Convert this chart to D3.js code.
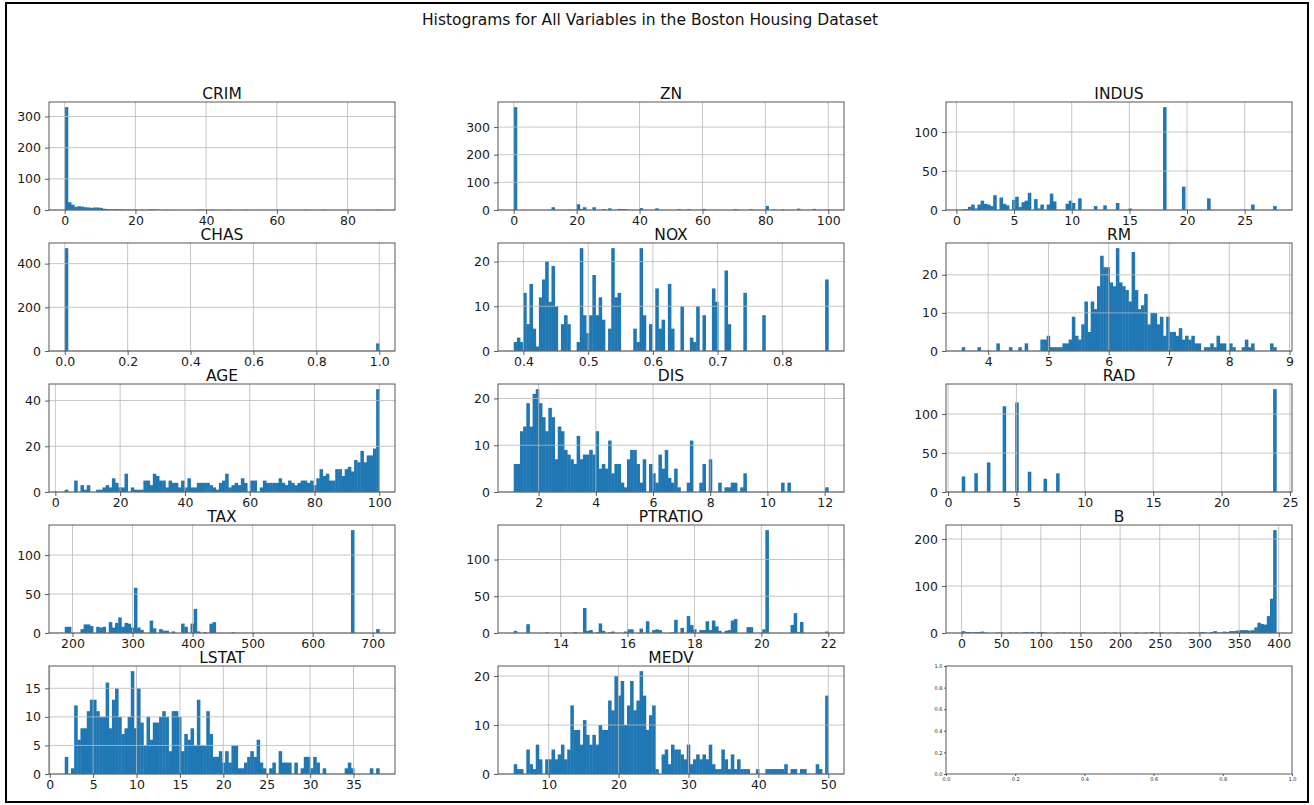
<!DOCTYPE html>
<html>
<head>
<meta charset="utf-8">
<script src="https://cdn.jsdelivr.net/npm/d3@7"></script>
<style>
  body { margin: 0; background: #fff; }
  text { font-family: "DejaVu Sans", sans-serif; }
</style>
</head>
<body>
<svg id="chart" width="1314" height="805"></svg>
<script>
// Histogram counts, 100 equal bins between each column's min and max
const crimCounts = [
  330,25,17,10,12,11,9,8,7,8,
  8,7,4,3,2,2,3,2,2,1,
  2,1,1,0,1,0,1,2,1,1,
  0,0,1,0,0,0,0,0,0,0,
  0,0,1,1,0,0,1,0,0,0,
  0,1,0,0,0,0,0,1,0,0,
  0,0,0,0,0,0,0,0,0,0,
  0,0,0,0,0,0,1,0,0,0,
  0,0,1,0,0,0,0,0,0,0,
  0,0,0,0,0,0,0,0,0,1];
const znCounts = [
  372,0,0,0,0,0,0,0,0,0,
  0,0,10,0,0,0,0,1,1,0,
  21,4,10,0,0,10,0,0,3,0,
  6,0,0,4,3,3,0,0,0,0,
  7,0,0,0,0,6,0,0,0,0,
  0,0,3,0,0,3,0,0,0,0,
  4,0,0,0,0,0,0,0,0,0,
  3,0,0,0,0,3,0,0,0,0,
  15,0,2,0,0,2,0,0,0,0,
  5,0,0,0,0,4,0,0,0,1];
const indusCounts = [
  1,1,4,7,2,7,12,8,7,5,
  19,0,16,8,6,0,13,17,4,10,
  12,22,0,14,2,7,0,7,21,11,
  0,0,0,8,12,9,0,15,0,0,
  0,0,5,0,0,6,0,0,0,9,
  0,0,0,2,0,0,0,0,0,0,
  0,0,0,0,132,0,0,0,0,0,
  30,0,0,0,0,0,0,0,15,0,
  0,0,0,0,0,0,0,0,0,0,
  0,0,7,0,0,0,0,0,0,5];
const chasCounts = [
  471,0,0,0,0,0,0,0,0,0,
  0,0,0,0,0,0,0,0,0,0,
  0,0,0,0,0,0,0,0,0,0,
  0,0,0,0,0,0,0,0,0,0,
  0,0,0,0,0,0,0,0,0,0,
  0,0,0,0,0,0,0,0,0,0,
  0,0,0,0,0,0,0,0,0,0,
  0,0,0,0,0,0,0,0,0,0,
  0,0,0,0,0,0,0,0,0,0,
  0,0,0,0,0,0,0,0,0,35];
const noxCounts = [
  2,3,2,13,6,15,5,1,12,16,
  20,11,19,10,0,6,8,6,0,0,
  2,23,8,4,8,17,8,12,7,0,
  5,23,12,13,0,0,0,0,5,2,
  23,8,0,6,0,14,5,7,0,15,
  5,0,0,10,0,0,3,2,10,0,
  8,0,0,14,11,0,0,18,6,0,
  0,0,0,13,0,0,0,0,0,8,
  0,0,0,0,0,0,0,0,0,0,
  0,0,0,0,0,0,0,0,0,16];
const rmCounts = [
  1,0,0,0,0,1,0,0,0,0,
  0,2,0,0,0,1,0,0,1,0,
  2,0,0,0,0,3,3,4,1,1,
  1,1,2,2,3,9,4,3,7,13,
  5,13,11,17,25,22,22,18,17,27,
  18,17,16,13,26,16,11,12,15,7,
  10,10,7,9,4,9,5,5,4,6,
  3,4,3,4,2,2,0,1,1,2,
  1,4,2,2,0,2,1,0,0,1,
  3,1,2,0,0,0,0,0,2,1];
const ageCounts = [
  1,0,0,5,0,3,1,3,0,0,
  1,1,2,3,2,6,4,2,2,8,
  0,2,1,1,1,5,5,3,8,7,
  5,5,2,5,4,4,2,5,2,6,
  2,2,4,4,4,4,3,2,1,4,
  5,8,2,3,4,3,6,4,0,5,
  5,0,2,5,4,4,4,4,6,4,
  3,5,4,3,4,5,5,4,5,3,
  6,10,7,8,5,5,10,10,7,10,
  11,9,14,13,18,13,16,16,19,45];
const disCounts = [
  6,6,13,14,19,14,21,22,19,16,
  13,18,16,7,14,13,9,8,7,6,
  12,7,8,8,9,8,13,5,6,5,
  11,4,6,6,2,1,7,9,9,6,
  2,7,0,6,4,2,8,5,9,3,
  2,5,1,0,0,2,11,0,0,2,
  6,0,7,0,0,2,0,1,1,2,
  2,0,1,4,0,0,0,0,0,0,
  0,0,0,0,0,2,0,2,0,0,
  0,0,0,0,0,0,0,0,0,1];
const radCounts = [
  20,0,0,0,24,0,0,0,38,0,
  0,0,0,110,0,0,0,115,0,0,
  0,26,0,0,0,0,17,0,0,0,
  24,0,0,0,0,0,0,0,0,0,
  0,0,0,0,0,0,0,0,0,0,
  0,0,0,0,0,0,0,0,0,0,
  0,0,0,0,0,0,0,0,0,0,
  0,0,0,0,0,0,0,0,0,0,
  0,0,0,0,0,0,0,0,0,0,
  0,0,0,0,0,0,0,0,0,132];
const taxCounts = [
  8,8,0,0,0,5,11,11,9,0,
  8,7,8,0,14,7,13,20,8,13,
  12,7,58,7,4,0,0,16,6,0,
  5,3,3,0,2,0,0,12,8,0,
  12,31,2,0,1,0,12,14,0,0,
  0,0,0,1,0,0,0,0,0,0,
  0,0,0,0,0,0,0,0,0,0,
  0,0,0,0,0,0,0,0,0,0,
  0,0,0,0,0,0,0,0,0,0,
  0,132,0,0,0,0,0,0,0,5];
const ptratioCounts = [
  3,0,0,0,12,0,0,0,0,0,
  1,0,0,0,0,0,0,0,0,1,
  0,0,34,3,4,0,1,13,3,0,
  1,2,0,0,0,2,5,5,0,0,
  6,0,16,0,4,5,4,0,0,0,
  1,18,0,7,0,23,11,5,0,4,
  4,16,4,17,9,3,0,3,4,17,
  19,0,0,0,8,8,0,0,0,5,
  140,0,0,0,0,0,0,0,11,27,
  1,15,0,0,0,0,0,0,0,2];
const bCounts = [
  4,2,2,1,2,2,3,1,0,0,
  0,1,1,0,0,1,0,1,0,1,
  2,1,2,0,2,2,1,0,0,0,
  1,0,1,0,1,0,0,0,1,0,
  0,0,0,0,0,1,0,0,1,0,
  0,0,0,0,0,1,0,0,1,0,
  2,0,0,1,0,0,0,0,1,0,
  0,0,1,1,0,1,2,1,0,2,
  4,1,1,3,2,4,4,5,6,6,
  6,5,6,12,22,19,18,36,73,219];
const lstatCounts = [
  3,0,1,12,6,8,8,11,13,13,
  11,10,10,16,8,13,15,10,7,8,
  10,18,8,15,9,5,10,6,9,9,
  10,11,10,4,11,11,10,4,7,6,
  8,5,13,5,5,11,7,3,3,4,
  2,4,2,5,5,1,1,2,3,4,
  3,6,2,1,0,1,2,0,4,2,
  2,2,0,2,0,1,3,3,1,3,
  2,0,1,0,0,0,0,0,0,1,
  2,1,0,0,0,0,0,1,0,1];
const medvCounts = [
  2,1,1,0,5,2,1,6,3,0,
  3,3,5,3,4,6,3,5,14,9,
  9,6,11,8,6,8,6,10,9,9,
  15,13,20,16,19,10,14,19,13,15,
  21,16,9,12,14,1,0,4,5,2,
  6,5,5,4,3,6,2,3,4,3,
  4,3,6,2,1,1,5,3,1,4,
  1,3,1,1,1,0,0,1,0,0,
  1,1,1,1,1,1,2,0,1,1,
  0,1,1,0,0,0,2,1,0,16];

const varNames = ['CRIM','ZN','INDUS','CHAS','NOX','RM','AGE','DIS','RAD','TAX','PTRATIO','B','LSTAT','MEDV'];
const varMins = [0.00632, 0, 0.46, 0, 0.385, 3.561, 2.9, 1.1296, 1, 187, 12.6, 0.32, 1.73, 5];
const varMaxs = [88.9762, 100, 27.74, 1, 0.871, 8.78, 100, 12.1265, 24, 711, 22.0, 396.9, 37.97, 50];
const varCounts = [crimCounts, znCounts, indusCounts, chasCounts, noxCounts, rmCounts, ageCounts,
                   disCounts, radCounts, taxCounts, ptratioCounts, bCounts, lstatCounts, medvCounts];

// tick labels
const xTickValues = [
  [0,20,40,60,80], [0,20,40,60,80,100], [0,5,10,15,20,25], [0,0.2,0.4,0.6,0.8,1.0],
  [0.4,0.5,0.6,0.7,0.8], [4,5,6,7,8,9], [0,20,40,60,80,100], [2,4,6,8,10,12],
  [0,5,10,15,20,25], [200,300,400,500,600,700], [14,16,18,20,22], [0,50,100,150,200,250,300,350,400],
  [0,5,10,15,20,25,30,35], [10,20,30,40,50]];
const yTickValues = [
  [0,100,200,300], [0,100,200,300], [0,50,100], [0,200,400],
  [0,10,20], [0,10,20], [0,20,40], [0,10,20],
  [0,50,100], [0,50,100], [0,50,100], [0,100,200],
  [0,5,10,15], [0,10,20]];
const xTickFormats = ['d','d','d','.1f','.1f','d','d','d','d','d','d','d','d','d'];
const emptyTicks = [0,0.2,0.4,0.6,0.8,1.0];

const svg = d3.select('#chart');

// outer frame + figure title
svg.append('rect')
    .attr('x', 6).attr('y', 3)
    .attr('width', 1302).attr('height', 799)
    .attr('fill', 'none')
    .attr('stroke', '#000')
    .attr('stroke-width', 2);

svg.append('text')
    .attr('x', 650)
    .attr('y', 25)
    .attr('text-anchor', 'middle')
    .attr('font-size', 15.5)
    .attr('fill', '#111')
    .text('Histograms for All Variables in the Boston Housing Dataset');

const colLeft = [49, 498, 946];
const rowTop = [102, 243, 384, 525, 666];
const axW = 346;
const axH = 108;
const gridColor = '#b8b8b8';
const tickFont = 12.5;

function styleAxis(sel, size) {
    sel.select('.domain').remove();
    sel.selectAll('.tick line').attr('stroke', '#333').attr('stroke-width', 0.8);
    sel.selectAll('.tick text')
        .attr('fill', '#1a1a1a')
        .attr('font-size', size)
        .attr('font-family', '"DejaVu Sans", sans-serif');
}

varNames.forEach((name, k) => {
    const left = colLeft[k % 3];
    const top = rowTop[Math.floor(k / 3)];
    const lo = varMins[k], hi = varMaxs[k];
    const counts = varCounts[k];
    const pad = (hi - lo) * 0.05;
    const binW = (hi - lo) / counts.length;

    const x = d3.scaleLinear().domain([lo - pad, hi + pad]).range([0, axW]);
    const y = d3.scaleLinear().domain([0, d3.max(counts) * 1.05]).range([axH, 0]);

    const g = svg.append('g').attr('transform', `translate(${left},${top})`);

    // bars (slight overlap so neighbours don't show seams)
    g.selectAll('rect.bar')
        .data(counts)
        .enter()
        .append('rect')
            .attr('class', 'bar')
            .attr('x', (d, i) => x(lo + i * binW))
            .attr('width', (d, i) => x(lo + (i + 1) * binW) - x(lo + i * binW) + 0.4)
            .attr('y', d => y(d))
            .attr('height', d => axH - y(d))
            .attr('fill', '#1f77b4');

    // grid sits on top of the bars, like matplotlib's default
    g.selectAll('line.vgrid')
        .data(xTickValues[k])
        .enter()
        .append('line')
            .attr('x1', d => x(d)).attr('x2', d => x(d))
            .attr('y1', 0).attr('y2', axH)
            .attr('stroke', gridColor).attr('stroke-width', 0.8);
    g.selectAll('line.hgrid')
        .data(yTickValues[k])
        .enter()
        .append('line')
            .attr('x1', 0).attr('x2', axW)
            .attr('y1', d => y(d)).attr('y2', d => y(d))
            .attr('stroke', gridColor).attr('stroke-width', 0.8);

    g.append('g')
        .attr('transform', `translate(0,${axH})`)
        .call(d3.axisBottom(x).tickValues(xTickValues[k]).tickFormat(d3.format(xTickFormats[k])).tickSize(4).tickPadding(2))
        .call(s => styleAxis(s, tickFont));
    g.append('g')
        .call(d3.axisLeft(y).tickValues(yTickValues[k]).tickFormat(d3.format('d')).tickSize(4).tickPadding(4))
        .call(s => styleAxis(s, tickFont));

    g.append('rect')
        .attr('width', axW).attr('height', axH)
        .attr('fill', 'none')
        .attr('stroke', '#444')
        .attr('stroke-width', 0.9);

    g.append('text')
        .attr('x', axW / 2)
        .attr('y', -3.5)
        .attr('text-anchor', 'middle')
        .attr('font-size', 15.5)
        .attr('fill', '#111')
        .text(name);
});

// the unused 15th subplot
{
    const g = svg.append('g').attr('transform', `translate(${colLeft[2]},${rowTop[4]})`);
    const x = d3.scaleLinear().domain([0, 1]).range([0, axW]);
    const y = d3.scaleLinear().domain([0, 1]).range([axH, 0]);
    g.append('g')
        .attr('transform', `translate(0,${axH})`)
        .call(d3.axisBottom(x).tickValues(emptyTicks).tickFormat(d3.format('.1f')).tickSize(2).tickPadding(1.5))
        .call(s => styleAxis(s, 5));
    g.append('g')
        .call(d3.axisLeft(y).tickValues(emptyTicks).tickFormat(d3.format('.1f')).tickSize(2).tickPadding(1.5))
        .call(s => styleAxis(s, 5));
    g.append('rect')
        .attr('width', axW).attr('height', axH)
        .attr('fill', 'none')
        .attr('stroke', '#444')
        .attr('stroke-width', 0.9);
}
</script>
</body>
</html>
